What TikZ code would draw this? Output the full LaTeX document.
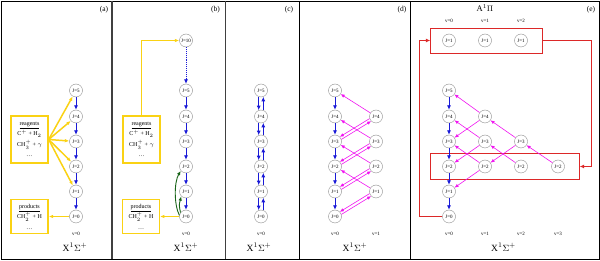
\documentclass[tikz,border=0pt]{standalone}
\usepackage{fontspec}
\setmainfont{Liberation Serif}
\usetikzlibrary{arrows.meta}
\definecolor{myblue}{RGB}{25,25,215}
\definecolor{myyel}{RGB}{250,210,20}
\definecolor{mymag}{RGB}{240,20,240}
\definecolor{myred}{RGB}{220,40,40}
\definecolor{mygreen}{RGB}{25,100,25}
\begin{document}
\begin{tikzpicture}[x=1pt,y=-1pt,
 lev/.style={circle,draw=black!45,fill=white,minimum size=13pt,inner sep=0pt,font=\fontsize{5}{5}\selectfont},
 bl/.style={myblue,line width=0.9pt,-{Latex[length=4.5pt,width=4pt]}},
 yl/.style={myyel,line width=1.5pt,-{Latex[length=4.5pt,width=3.5pt]}},
 mg/.style={mymag,line width=0.6pt,-{Latex[length=4pt,width=3.5pt]}},
 gr/.style={mygreen,line width=0.9pt,-{Latex[length=4.5pt,width=3.5pt]}},
 rd/.style={myred,line width=1pt,-{Latex[length=4.5pt,width=4pt]}},
 ybox/.style={draw=myyel,line width=1.3pt,align=center,inner sep=0pt,font=\fontsize{6}{10.5}\selectfont},
 rbox/.style={draw=myred,line width=0.8pt,rectangle,inner sep=0pt},
 plab/.style={font=\fontsize{7.5}{8}\selectfont},
 vlab/.style={font=\fontsize{5}{5}\selectfont},
 xlab/.style={font=\fontsize{9.5}{10}\selectfont},
 thickdiv/.style={line width=1.5pt,black!75},
 thindiv/.style={line width=0.7pt,black},
]
\useasboundingbox (0,0) rectangle (600,261);
\draw[thindiv] (1,1) rectangle (599,259);
\draw[thickdiv] (112,1) -- (112,259);
\draw[thickdiv] (225.5,1) -- (225.5,259);
\draw[thindiv] (299,1) -- (299,259);
\draw[thindiv] (410,1) -- (410,259);

% ---------- panel (a)
\foreach \j/\y in {5/90.5,4/116.5,3/141.5,2/166.5,1/191.5,0/216.5}
  \node[lev] (a\j) at (76,\y) {J=\j};
\foreach \u/\d in {5/4,4/3,3/2,2/1,1/0} \draw[bl] (a\u) -- (a\d);
\node[ybox,minimum width=37pt,minimum height=47pt] (ra) at (29.5,139.5)
  {\underline{reagents}\\C$^+$ + H$_2$\\CH$_3^+$ + $\gamma$\\\dots};
\foreach \j in {5,4,3,2,1} \draw[yl] (ra.east) -- (a\j);
\node[ybox,minimum width=37pt,minimum height=34pt] (pa) at (29.5,216.5)
  {\underline{products}\\CH$_2^+$ + H\\\dots};
\draw[yl] (a0) -- (pa.east);
\node[vlab] (va) at (76,234) {v=0};
\node[xlab] (xa) at (75,247.5) {X$^1\Sigma^+$};
\node[plab] (la) at (104,10) {(a)};

% ---------- panel (b)
\node[lev] (b10) at (186,40.5) {J=10};
\foreach \j/\y in {5/90.5,4/116.5,3/141.5,2/166.5,1/191.5,0/216.5}
  \node[lev] (b\j) at (186,\y) {J=\j};
\draw[bl,densely dotted,line width=0.7pt] (b10) -- (b5);
\foreach \u/\d in {5/4,4/3,3/2,2/1,1/0} \draw[bl] (b\u) -- (b\d);
\node[ybox,minimum width=37pt,minimum height=47pt] (rb) at (141.5,139.5)
  {\underline{reagents}\\C$^+$ + H$_2$\\CH$_3^+$ + $\gamma$\\\dots};
\node[ybox,minimum width=36.5pt,minimum height=34pt] (pb) at (141,216.5)
  {\underline{products}\\CH$_2^+$ + H\\\dots};
\draw[yl] (rb.north) |- (b10);
\draw[yl] (b0) -- (pb.east);
\draw[gr] (b0.170) .. controls (174,205) and (174,182) .. (b2.220);
\draw[gr] (b0.145) .. controls (179,205) .. (b1.225);
\node[vlab] (vb) at (186,234) {v=0};
\node[xlab] (xb) at (186,247.5) {X$^1\Sigma^+$};
\node[plab] (lb) at (215.5,10) {(b)};

% ---------- panel (c)
\foreach \j/\y in {5/90.5,4/116.5,3/141.5,2/166.5,1/191.5,0/216.5}
  \node[lev] (c\j) at (261,\y) {J=\j};
\foreach \u/\d in {5/4,4/3,3/2,2/1,1/0} {
  \draw[bl] (c\u.250) -- (c\d.110);
  \draw[bl] (c\d.70) -- (c\u.290);
}
\node[vlab] (vc) at (261,234) {v=0};
\node[xlab] (xc) at (259,247.5) {X$^1\Sigma^+$};
\node[plab] (lc) at (289,10) {(c)};

% ---------- panel (d)
\foreach \j/\y in {5/90.5,4/116.5,3/141.5,2/166.5,1/191.5,0/216.5}
  \node[lev] (d\j) at (335,\y) {J=\j};
\foreach \j/\y in {4/116.5,3/141.5,2/166.5,1/191.5}
  \node[lev] (dr\j) at (376,\y) {J=\j};
\foreach \u/\d in {5/4,4/3,3/2,2/1,1/0} \draw[bl] (d\u) -- (d\d);
\foreach \j/\p/\m in {4/5/3,3/4/2,2/3/1,1/2/0} {
  \draw[mg] (dr\j) -- (d\p);
  \draw[mg] (dr\j.198) -- (d\m.44);
  \draw[mg] (d\m.18) -- (dr\j.224);
}
\node[vlab] (vd0) at (335,234) {v=0};
\node[vlab] (vd1) at (376,234) {v=1};
\node[xlab] (xd) at (355,247.5) {X$^1\Sigma^+$};
\node[plab] (ld) at (402,10) {(d)};

% ---------- panel (e)
\node[rbox,minimum width=112pt,minimum height=25pt] (tb) at (486.7,40.5) {};
\node[rbox,minimum width=148.6pt,minimum height=25.3pt] (bb) at (505,166.5) {};
\foreach \n/\x in {0/449,1/485,2/521} {
  \node[lev] (t\n) at (\x,40.5) {J=1};
  \node[vlab] (vt\n) at (\x,21) {v=\n};
}
\node[font=\fontsize{8.5}{9}\selectfont] (ah) at (485,8) {A$^1\Pi$};
\foreach \j/\y in {5/90.5,4/116.5,3/141.5,2/166.5,1/191.5,0/216.5}
  \node[lev] (e\j) at (449,\y) {J=\j};
\foreach \j/\y in {4/116.5,3/141.5,2/166.5}
  \node[lev] (f\j) at (485,\y) {J=\j};
\foreach \j/\y in {3/141.5,2/166.5}
  \node[lev] (g\j) at (521,\y) {J=\j};
\node[lev] (h2) at (558,166.5) {J=2};
\foreach \u/\d in {5/4,4/3,3/2,2/1,1/0} \draw[bl] (e\u) -- (e\d);
\draw[mg] (f4) -- (e5);
\draw[mg] (f4) -- (e3);
\draw[mg] (f3) -- (e4);
\draw[mg] (f3) -- (e2);
\draw[mg] (f2) -- (e3);
\draw[mg] (f2) -- (e1);
\draw[mg] (g3) -- (f4);
\draw[mg] (g3) -- (f2);
\draw[mg] (g2) -- (f3);
\draw[mg] (h2) -- (g3);
\coordinate (rl) at (419.5,216.5);
\coordinate (rr) at (591.5,40.5);
\draw[rd] (e0.west) -- (rl) |- (tb.west);
\draw[rd] (tb.east) -- (rr) |- (bb.east);
\foreach \n/\x in {0/449,1/485,2/521,3/558}
  \node[vlab] (ve\n) at (\x,234) {v=\n};
\node[xlab] (xe) at (503.5,247.5) {X$^1\Sigma^+$};
\node[plab] (le) at (591,10) {(e)};
\end{tikzpicture}
\end{document}
